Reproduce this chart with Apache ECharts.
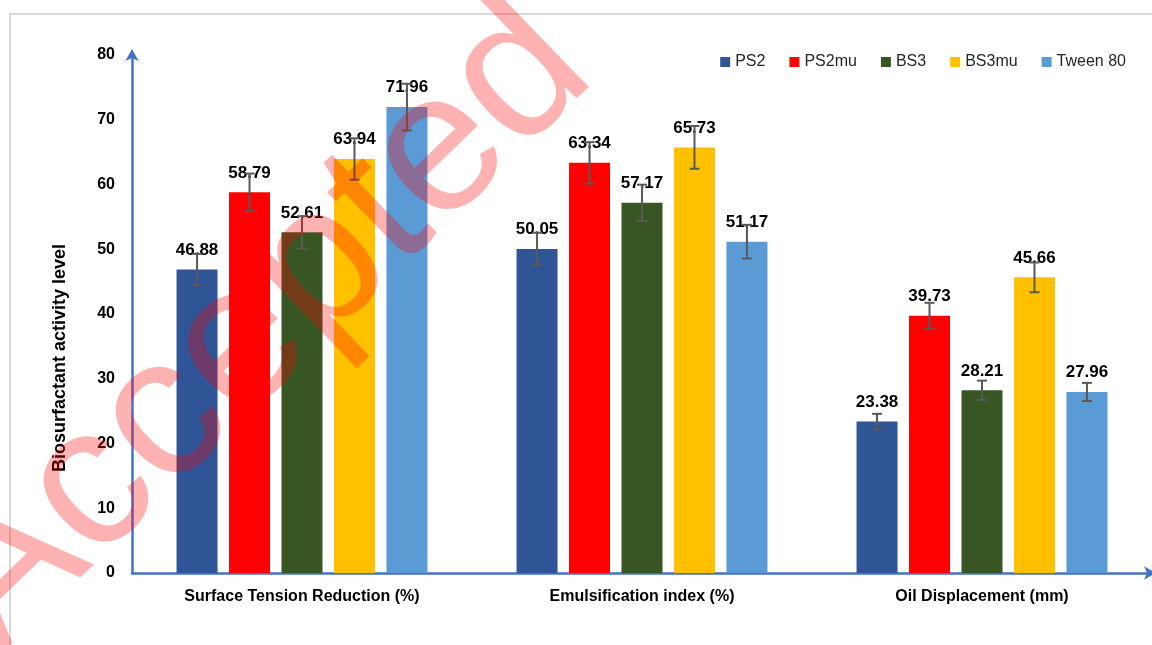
<!DOCTYPE html>
<html>
<head>
<meta charset="utf-8">
<title>Biosurfactant activity level</title>
<script src="https://cdn.jsdelivr.net/npm/echarts@6/dist/echarts.min.js"></script>
<style>
html, body { margin: 0; padding: 0; background: #fff; }
#main { width: 1152px; height: 645px; }
</style>
</head>
<body>
<div id="main"></div>
<script>
// data
var categories = ['Surface Tension Reduction (%)', 'Emulsification index (%)', 'Oil Displacement (mm)'];
var seriesNames = ['PS2', 'PS2mu', 'BS3', 'BS3mu', 'Tween 80'];

var ps2 = [46.88, 50.05, 23.38];
var ps2mu = [58.79, 63.34, 39.73];
var bs3 = [52.61, 57.17, 28.21];
var bs3mu = [63.94, 65.73, 45.66];
var tween80 = [71.96, 51.17, 27.96];

// error bars (half length)
var ps2Err = [2.4, 2.5, 1.2];
var ps2muErr = [2.9, 3.2, 2.0];
var bs3Err = [2.5, 2.8, 1.5];
var bs3muErr = [3.2, 3.3, 2.3];
var tween80Err = [3.6, 2.6, 1.4];

var yMin = 0, yMax = 80, yStep = 10;

var colors = ['#2F5597', '#FF0000', '#375623', '#FFC000', '#5B9BD5'];
var values = [ps2, ps2mu, bs3, bs3mu, tween80];
var errors = [ps2Err, ps2muErr, bs3Err, bs3muErr, tween80Err];

var barWidth = 41;
var barGap = 0.28;
var barStep = barWidth * (1 + barGap);
var axisBlue = '#4472C4';
var font = '"Liberation Sans", Arial, sans-serif';

function errorItem(k) {
	return function (params, api) {
		var x = api.value(0), v = api.value(1), e = api.value(2);
		var hi = api.coord([x, v + e]);
		var lo = api.coord([x, v - e]);
		var cx = hi[0] + (k - 2) * barStep;
		var st = { stroke: '#595959', lineWidth: 2 };
		return {
			type: 'group',
			children: [
				{ type: 'line', shape: { x1: cx, y1: hi[1], x2: cx, y2: lo[1] }, style: st },
				{ type: 'line', shape: { x1: cx - 5, y1: hi[1], x2: cx + 5, y2: hi[1] }, style: st },
				{ type: 'line', shape: { x1: cx - 5, y1: lo[1], x2: cx + 5, y2: lo[1] }, style: st }
			]
		};
	};
}

var series = [];
for (var i = 0; i < seriesNames.length; i++) {
	series.push({
		name: seriesNames[i],
		type: 'bar',
		data: values[i],
		barWidth: barWidth,
		barGap: (barGap * 100) + '%',
		itemStyle: { color: colors[i] },
		label: {
			show: true,
			position: 'top',
			distance: 11,
			color: '#000',
			fontFamily: font,
			fontWeight: 'bold',
			fontSize: 17
		},
		z: 2
	});
}
for (var j = 0; j < seriesNames.length; j++) {
	var errData = [];
	for (var c = 0; c < categories.length; c++) {
		errData.push([c, values[j][c], errors[j][c]]);
	}
	series.push({
		name: seriesNames[j] + ' err',
		type: 'custom',
		renderItem: errorItem(j),
		encode: { x: 0, y: 1 },
		data: errData,
		silent: true,
		z: 5
	});
}

var myChart = echarts.init(document.getElementById('main'));
var option = {
	backgroundColor: '#fff',
	animation: false,
	legend: {
		data: seriesNames,
		right: 21,
		top: 49,
		itemWidth: 10,
		itemHeight: 10,
		itemGap: 24,
		icon: 'rect',
		textStyle: { fontFamily: font, fontSize: 16, color: '#262626' }
	},
	grid: { left: 132, right: -3, top: 55, bottom: 72 },
	xAxis: {
		type: 'category',
		data: categories,
		axisTick: { show: false },
		axisLine: {
			lineStyle: { color: axisBlue, width: 2.5 },
			symbol: ['none', 'arrow'],
			symbolSize: [10, 12],
			symbolOffset: [0, 4]
		},
		axisLabel: { color: '#000', fontFamily: font, fontWeight: 'bold', fontSize: 16, margin: 16 }
	},
	yAxis: {
		type: 'value',
		min: yMin,
		max: yMax,
		interval: yStep,
		splitLine: { show: false },
		axisTick: { show: false },
		axisLine: {
			show: true,
			lineStyle: { color: axisBlue, width: 2.5 },
			symbol: ['none', 'arrow'],
			symbolSize: [10, 12],
			symbolOffset: [0, 6]
		},
		axisLabel: { color: '#000', fontFamily: font, fontWeight: 'bold', fontSize: 16, margin: 17 }
	},
	graphic: [
		{
			type: 'rect',
			shape: { x: 10, y: 14, width: 1300, height: 800 },
			style: { fill: 'none', stroke: '#D9D9D9', lineWidth: 2 },
			z: 0
		},
		{
			type: 'text',
			x: 60,
			y: 358,
			rotation: Math.PI / 2,
			style: {
				text: 'Biosurfactant activity level',
				fill: '#000',
				font: 'bold 18px ' + font,
				align: 'center',
				verticalAlign: 'middle'
			}
		},
		{
			// watermark
			type: 'text',
			x: -40,
			y: 617,
			rotation: 44 * Math.PI / 180,
			silent: true,
			z: 100,
			style: {
				text: 'Accepted',
				fill: 'rgba(255,0,0,0.3)',
				font: 'normal 200px ' + font,
				align: 'left',
				verticalAlign: 'middle'
			}
		}
	],
	series: series
};
myChart.setOption(option);
</script>
</body>
</html>
